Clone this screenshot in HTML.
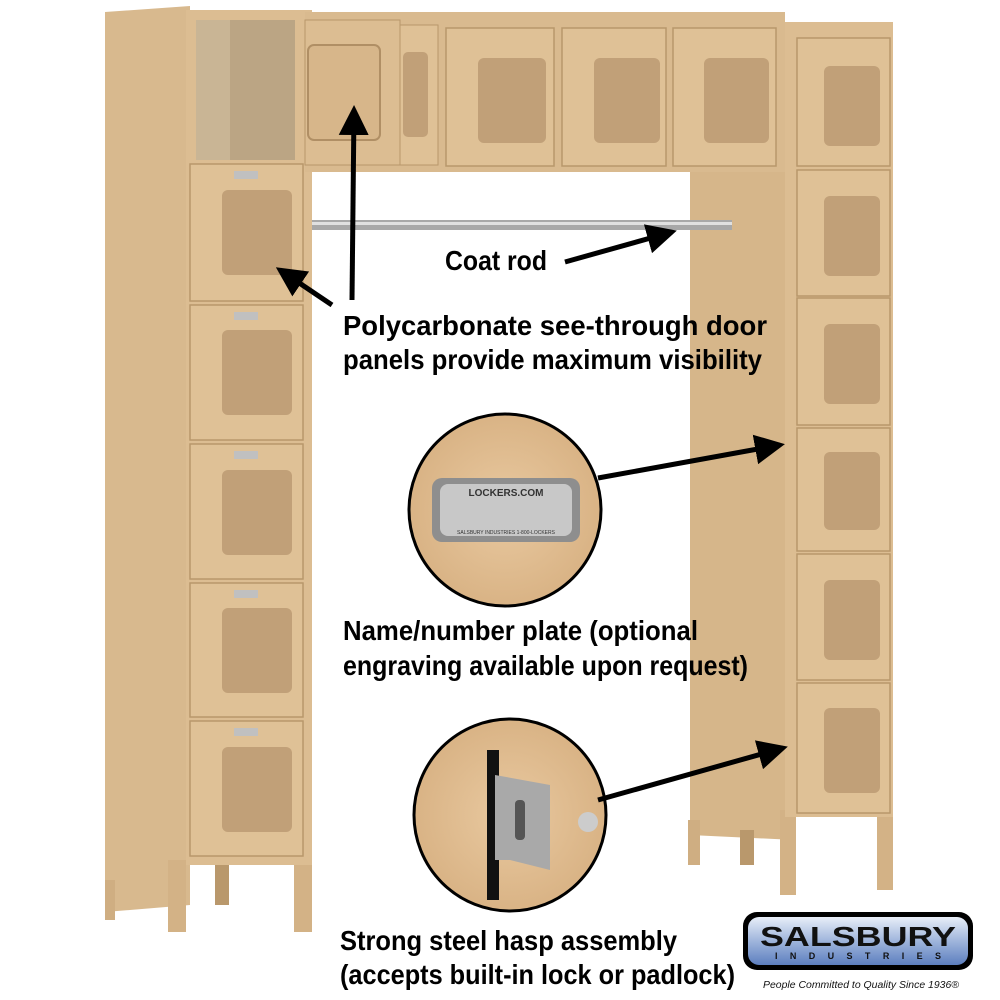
<!DOCTYPE html>
<html><head><meta charset="utf-8"><style>
html,body{margin:0;padding:0;background:#fff;width:1000px;height:1000px;overflow:hidden}
svg{display:block}
.t{font-family:"Liberation Sans",sans-serif;font-weight:bold;font-size:28px;fill:#000}
</style></head><body>
<svg width="1000" height="1000" viewBox="0 0 1000 1000" xmlns="http://www.w3.org/2000/svg">
<defs>
<linearGradient id="bl" x1="0" y1="0" x2="0" y2="1"><stop offset="0" stop-color="#e8eef8"/><stop offset="0.5" stop-color="#9fb5dc"/><stop offset="1" stop-color="#5d7fbf"/></linearGradient>
<radialGradient id="c1" cx="0.5" cy="0.5" r="0.5"><stop offset="0" stop-color="#e9c9a0"/><stop offset="1" stop-color="#d9b385"/></radialGradient>
<marker id="ah" markerWidth="6" markerHeight="6" refX="5" refY="3" orient="auto" markerUnits="strokeWidth"><path d="M0,0 L6,3 L0,6 Z" fill="#000"/></marker>
</defs>
<!-- left tower side -->
<polygon points="105,12 190,6 190,905 105,912" fill="#d8b98e"/>
<rect x="105" y="880" width="10" height="40" fill="#cfae82"/>
<rect x="168" y="860" width="18" height="72" fill="#d3b286"/>
<rect x="294" y="860" width="18" height="72" fill="#d3b286"/>
<rect x="215" y="860" width="14" height="45" fill="#b9986c"/>
<rect x="186" y="10" width="126" height="855" fill="#dcbd92"/>
<rect x="190" y="20" width="105" height="140" fill="#c9b595"/>
<rect x="230" y="20" width="65" height="140" fill="#bba584"/>
<rect x="190" y="18" width="6" height="145" fill="#dcbd92"/>
<g fill="#dfc196" stroke="#b8976b" stroke-width="1.5">
<rect x="190" y="164" width="113" height="137"/>
<rect x="190" y="305" width="113" height="135"/>
<rect x="190" y="444" width="113" height="135"/>
<rect x="190" y="583" width="113" height="134"/>
<rect x="190" y="721" width="113" height="135"/>
</g>
<g fill="#c1a078">
<rect x="222" y="190" width="70" height="85" rx="6"/>
<rect x="222" y="330" width="70" height="85" rx="6"/>
<rect x="222" y="470" width="70" height="85" rx="6"/>
<rect x="222" y="608" width="70" height="85" rx="6"/>
<rect x="222" y="747" width="70" height="85" rx="6"/>
</g>
<g fill="#c0c0c0"><rect x="234" y="171" width="24" height="8"/><rect x="234" y="312" width="24" height="8"/><rect x="234" y="451" width="24" height="8"/><rect x="234" y="590" width="24" height="8"/><rect x="234" y="728" width="24" height="8"/></g>
<!-- right tower side (below bridge) -->
<polygon points="690,165 795,165 795,840 690,835" fill="#d6b68a"/>
<rect x="688" y="820" width="12" height="45" fill="#cfae82"/>
<rect x="740" y="830" width="14" height="35" fill="#b9986c"/>
<rect x="780" y="810" width="16" height="85" fill="#d3b286"/>
<rect x="877" y="810" width="16" height="80" fill="#d3b286"/>
<!-- top bridge -->
<rect x="305" y="12" width="480" height="160" fill="#d9ba8f"/>
<rect x="305" y="20" width="95" height="145" fill="#dcbd92" stroke="#b8976b"/>
<rect x="308" y="45" width="72" height="95" rx="6" fill="#d7b68a" stroke="#b08f65" stroke-width="2"/>
<rect x="400" y="25" width="38" height="140" fill="#dfc196" stroke="#b8976b"/>
<rect x="403" y="52" width="25" height="85" rx="5" fill="#c1a078"/>
<g fill="#dfc196" stroke="#b8976b" stroke-width="1.5">
<rect x="446" y="28" width="108" height="138"/>
<rect x="562" y="28" width="104" height="138"/>
<rect x="673" y="28" width="103" height="138"/>
</g>
<g fill="#c1a078"><rect x="478" y="58" width="68" height="85" rx="6"/><rect x="594" y="58" width="66" height="85" rx="6"/><rect x="704" y="58" width="65" height="85" rx="6"/></g>
<rect x="312" y="220" width="420" height="10" fill="#a8a8a8"/><rect x="312" y="222" width="420" height="3" fill="#e0e0e0"/>
<!-- right tower front -->
<rect x="785" y="22" width="108" height="795" fill="#dcbd92"/>
<g fill="#dfc196" stroke="#b8976b" stroke-width="1.5">
<rect x="797" y="38" width="93" height="128"/><rect x="797" y="170" width="93" height="126"/><rect x="797" y="298" width="93" height="127"/><rect x="797" y="428" width="93" height="123"/><rect x="797" y="554" width="93" height="126"/><rect x="797" y="683" width="93" height="130"/>
</g>
<g fill="#c1a078"><rect x="824" y="66" width="56" height="80" rx="6"/><rect x="824" y="196" width="56" height="80" rx="6"/><rect x="824" y="324" width="56" height="80" rx="6"/><rect x="824" y="452" width="56" height="78" rx="6"/><rect x="824" y="580" width="56" height="80" rx="6"/><rect x="824" y="708" width="56" height="85" rx="6"/></g>
<!-- circles -->
<circle cx="505" cy="510" r="96" fill="url(#c1)" stroke="#000" stroke-width="3"/>
<rect x="432" y="478" width="148" height="64" rx="10" fill="#8e8e8e"/>
<rect x="440" y="484" width="132" height="52" rx="8" fill="#c8c8c8"/>
<text x="506" y="496" font-family="Liberation Sans,sans-serif" font-size="10" text-anchor="middle" fill="#333" font-weight="bold">LOCKERS.COM</text>
<text x="506" y="534" font-family="Liberation Sans,sans-serif" font-size="5" text-anchor="middle" fill="#333">SALSBURY INDUSTRIES   1-800-LOCKERS</text>
<circle cx="510" cy="815" r="96" fill="url(#c1)" stroke="#000" stroke-width="3"/>
<rect x="487" y="750" width="12" height="150" fill="#111"/>
<polygon points="495,775 550,785 550,870 510,860 495,860" fill="#a9a9a9"/>
<rect x="515" y="800" width="10" height="40" rx="4" fill="#555"/>
<circle cx="588" cy="822" r="10" fill="#ccc"/>
<g stroke="#000" stroke-width="5" fill="none">
<line x1="565" y1="262" x2="672" y2="232" marker-end="url(#ah)"/>
<line x1="352" y1="300" x2="354" y2="110" marker-end="url(#ah)"/>
<line x1="332" y1="305" x2="280" y2="270" marker-end="url(#ah)"/>
<line x1="598" y1="478" x2="780" y2="445" marker-end="url(#ah)"/>
<line x1="598" y1="800" x2="783" y2="748" marker-end="url(#ah)"/>
</g>
<text class="t" x="445" y="270" textLength="102" lengthAdjust="spacingAndGlyphs">Coat rod</text>
<text class="t" x="343" y="335" textLength="424" lengthAdjust="spacingAndGlyphs">Polycarbonate see-through door</text>
<text class="t" x="343" y="369" textLength="419" lengthAdjust="spacingAndGlyphs">panels provide maximum visibility</text>
<text class="t" x="343" y="640" textLength="355" lengthAdjust="spacingAndGlyphs">Name/number plate (optional</text>
<text class="t" x="343" y="675" textLength="405" lengthAdjust="spacingAndGlyphs">engraving available upon request)</text>
<text class="t" x="340" y="950" textLength="337" lengthAdjust="spacingAndGlyphs">Strong steel hasp assembly</text>
<text class="t" x="340" y="984" textLength="395" lengthAdjust="spacingAndGlyphs">(accepts built-in lock or padlock)</text>
<rect x="743" y="912" width="230" height="58" rx="14" fill="#000"/>
<rect x="748" y="917" width="220" height="48" rx="11" fill="url(#bl)"/>
<text x="760" y="946" font-family="Liberation Sans,sans-serif" font-weight="bold" font-size="28" fill="#111" textLength="196" lengthAdjust="spacingAndGlyphs">SALSBURY</text>
<text x="775" y="959" font-family="Liberation Sans,sans-serif" font-weight="bold" font-size="9" fill="#111" textLength="166">INDUSTRIES</text>
<text x="763" y="988" font-family="Liberation Sans,sans-serif" font-style="italic" font-size="10" fill="#111" textLength="196" lengthAdjust="spacingAndGlyphs">People Committed to Quality Since 1936®</text>
</svg>
</body></html>
